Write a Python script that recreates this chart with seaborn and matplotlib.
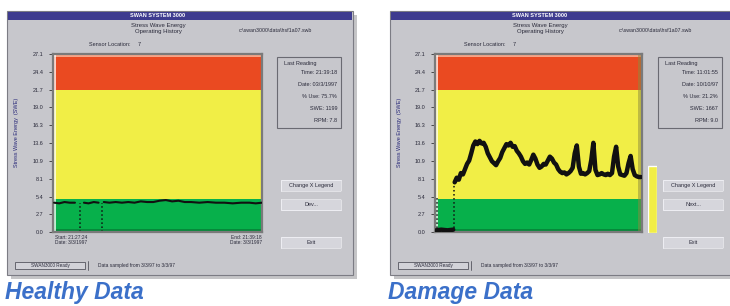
import numpy as np
import pandas as pd
import matplotlib.pyplot as plt
import seaborn as sns
from matplotlib.patches import Rectangle

sns.set_theme(style="white")
plt.rcParams["font.family"] = ["Liberation Sans", "DejaVu Sans"]

# ---- data ----
ytick_vals = [0.0, 2.71, 5.42, 8.13, 10.84, 13.55, 16.26, 18.97, 21.68, 24.39, 27.1]
ytick_labels = ["0.0", "2.7", "5.4", "8.1", "10.9", "13.6", "16.3", "19.0", "21.7", "24.4", "27.1"]
band_edges = [0.0, 5.1, 21.7, 27.1]
band_colors = ["#07b04b", "#f1ee46", "#ea4a21"]

# healthy run: flat ~4.5 with two sensor dropouts
healthy_t = [0.5, 3, 5.5, 8, 10.5, 14.8, 17, 19.5, 21.8, 24.3, 27, 30, 33, 36, 39,
             42, 45, 48, 51, 54, 57, 60, 63, 66, 70, 74, 78, 82, 86, 90, 94, 97, 100]
healthy_v = [4.5, 4.4, 4.6, 4.5, 4.5, 4.5, 4.4, 4.6, 4.5, 4.6, 4.5, 4.6, 4.5, 4.6, 4.5,
             4.7, 4.6, 4.6, 4.8, 4.9, 4.7, 4.8, 4.6, 4.6, 4.5, 4.6, 4.5, 4.5, 4.4, 4.5,
             4.5, 4.4, 4.5]
healthy_seg = [0] * 5 + [1] * 4 + [2] * 24
healthy_drop_t = [13.0, 23.5]

# damage run
damage_t = [0.5, 3, 6, 8.8,
            9.5, 10.5, 11.5, 12.5, 13.5, 14.5, 15.5, 16.5, 17.5, 18.5, 19.5, 20.5,
            21.5, 22.5, 23.5, 24.5, 25.5, 26.5, 27.5, 28.5, 29.5, 30.5, 31.5, 32.5,
            33.5, 34.5, 35.5, 36.5, 37.5, 38.5, 39.5, 40.5, 41.5, 42.5, 43.5, 44.5,
            45.5, 46.5, 47.5, 48.5, 49.5, 50.5, 51.5, 52.5, 53.5, 54.5, 55.5, 56.5,
            57.5, 58.5, 59.5, 60.5, 61.5, 62.5, 63.5, 64.5, 65.5, 66.5, 67.5, 68.5,
            69.5, 70.5, 71.5, 72.5, 73.5, 74.5, 75.5, 76.5, 77.5, 78.5, 79.5, 80.5,
            81.5, 82.5, 83.5, 84.5, 85.5, 86.5, 87.5, 88.5, 89.5, 90.5, 91.5, 92.5,
            93.5, 94.5, 95.5, 96.5, 97.5, 98.5, 99.5]
damage_v = [0.3, 0.4, 0.3, 0.4,
            7.6, 8.3, 8.0, 9.0, 8.8, 9.6, 10.4, 10.9, 12.0, 13.2, 13.8, 13.4,
            13.9, 13.5, 13.6, 13.0, 12.0, 11.4, 10.8, 10.5, 10.2, 10.8, 11.3, 12.2,
            12.8, 13.4, 13.2, 13.6, 13.0, 13.1, 12.4, 12.0, 11.5, 10.8, 10.4, 10.6,
            10.3, 11.0, 11.8, 11.2, 10.3, 9.8, 10.0, 10.4, 10.3, 10.9, 11.5, 11.2,
            10.6, 10.3, 9.6, 9.2, 9.0, 9.1, 8.8, 9.0, 9.3, 9.8, 12.0, 13.2,
            10.0, 8.9, 9.0, 8.8, 9.0, 9.3, 11.0, 13.6, 9.5, 8.7, 8.8, 9.0,
            8.8, 8.7, 8.9, 8.7, 9.0, 11.5, 13.0, 10.0, 8.8, 8.7, 8.6, 9.0,
            10.5, 11.6, 9.6, 8.7, 8.5, 8.4, 8.4]
damage_seg = [0] * 4 + [1] * (len(damage_t) - 4)
damage_drop_t = [1.0, 9.0]
damage_drop_v = [5.4, 7.6]
damage_gauge = 10.2

W, H = 730, 306
fig = plt.figure(figsize=(W / 100, H / 100), dpi=100)
bg = fig.add_axes([0, 0, 1, 1])
bg.set_xlim(0, W)
bg.set_ylim(H, 0)
bg.axis("off")

GRAY = "#c7c7cc"
TXT = "#2a2a3a"


def pix_axes(x0, y0, x1, y1):
    return fig.add_axes([x0 / W, 1 - y1 / H, (x1 - x0) / W, (y1 - y0) / H])


def draw_window(x0, x1, hdr_x, file_x, sensor_x, box_x, btn_x, buttons, side_text, status_x):
    w = x1 - x0
    bg.add_patch(Rectangle((x0 + 4, 15), w, 264, fc="#8c8c90", alpha=0.5, lw=0))
    bg.add_patch(Rectangle((x0, 11), w, 264, fc=GRAY, ec="#7c7c84", lw=0.8))
    bg.add_patch(Rectangle((x0 + 1, 11.5), w - 2, 8.5, fc="#3e3b8f", lw=0))
    bg.text(hdr_x, 15.8, "SWAN SYSTEM 3000", color="white", fontsize=4, ha="center",
            va="center", weight="bold")
    bg.text(hdr_x, 25, "Stress Wave Energy", fontsize=4.3, color=TXT, ha="center", va="center")
    bg.text(hdr_x, 31, "Operating History", fontsize=4.3, color=TXT, ha="center", va="center")
    bg.text(file_x, 31, "c:\\swan3000\\data\\hsf1a07.swb", fontsize=3.8, color=TXT,
            ha="center", va="center")
    bg.text(sensor_x, 45, "Sensor Location:     7", fontsize=4, color=TXT, ha="center",
            va="center")
    bg.text(x0 + 10, 132, "Stress Wave Energy  (SWE)", fontsize=4, color="#2a2a7a",
            rotation=90, ha="center", va="center")
    # last reading box
    bg.add_patch(Rectangle((box_x, 57), 64, 71, fc="none", ec="#6a6a72", lw=0.8))
    bg.text(box_x + 7, 63, "Last Reading", fontsize=4, color=TXT, va="center")
    for i, s in enumerate(side_text):
        bg.text(box_x + 60, 73 + i * 11.8, s, fontsize=4, color=TXT, ha="right", va="center")
    # buttons
    for (yb, label) in zip([180, 198.5, 237], buttons):
        bg.add_patch(Rectangle((btn_x + 0.8, yb + 0.8), 60, 11, fc="#3a3a44", lw=0))
        bg.add_patch(Rectangle((btn_x, yb), 60, 11, fc="#d6d6dc", ec="#f4f4f8", lw=0.6))
        bg.text(btn_x + 30, yb + 5.5, label, fontsize=4, color=TXT, ha="center", va="center")
    # status bar
    bg.add_patch(Rectangle((x0 + 8, 262), 70, 7, fc="#d2d2d8", ec="#55555f", lw=0.6))
    bg.text(x0 + 43, 265.5, "SWAN3000 Ready", fontsize=3.3, color=TXT, ha="center", va="center")
    bg.plot([x0 + 81, x0 + 81], [261, 270], color="#55555f", lw=0.6)
    bg.text(status_x, 265.5, "Data sampled from 3/3/97 to 3/3/97", fontsize=3.5, color=TXT,
            va="center")


def draw_panel(ax, df, drop_t, drop_v, lw):
    for lo, hi, c in zip(band_edges[:-1], band_edges[1:], band_colors):
        ax.axhspan(lo, hi, color=c, lw=0, zorder=0)
    ax.axhspan(26.6, 27.1, color="#f5a487", lw=0, zorder=0)
    ax.axhspan(0, 0.45, color="#05893a", lw=0, zorder=0)
    ax.axvspan(0, 1.6, color="white", alpha=0.75, lw=0, zorder=0.5)
    ax.vlines(drop_t, 0, drop_v, colors="#111111", linestyles=":", lw=1.1, zorder=2)
    sns.lineplot(data=df, x="t", y="v", units="seg", estimator=None, color="#111111",
                 lw=lw, ax=ax, legend=False, zorder=3)
    ax.set_xlim(0, 100)
    ax.set_ylim(0, 27.1)
    ax.set_xticks([])
    ax.set_yticks(ytick_vals)
    ax.set_yticklabels(ytick_labels)
    ax.tick_params(axis="y", left=True, length=3, width=0.6, color="#333333", labelsize=4,
                   labelcolor=TXT, pad=4)
    ax.set_xlabel("")
    ax.set_ylabel("")
    for s in ax.spines.values():
        s.set_color("#7a7a7a")
        s.set_linewidth(1.6)


# ---- left window: healthy ----
draw_window(7, 353, 158, 275, 115, 277, 281, ["Change X Legend", "Dev...", "Exit"],
            ["Time: 21:39:18", "Date: 03/3/1997", "% Use: 75.7%", "SWE: 1199", "RPM: 7.8"], 98)
ax1 = pix_axes(53, 54, 262, 232.3)
h_df = pd.DataFrame({"t": healthy_t, "v": healthy_v, "seg": healthy_seg})
draw_panel(ax1, h_df, healthy_drop_t, [4.5, 4.5], 1.5)
bg.text(55, 240, "Start: 21:27:24\nDate: 3/3/1997", fontsize=3.5, color=TXT, va="center",
        linespacing=1.0)
bg.text(262, 240, "End: 21:39:18\nDate: 3/3/1997", fontsize=3.5, color=TXT, va="center",
        ha="right", linespacing=1.0)

# ---- right window: damage ----
draw_window(390, 740, 540, 655, 490, 658, 663, ["Change X Legend", "Next...", "Exit"],
            ["Time: 11:01:55", "Date: 10/10/97", "% Use: 21.2%", "SWE: 1667", "RPM: 9.0"], 481)
ax2 = pix_axes(435, 54, 642, 232.3)
d_df = pd.DataFrame({"t": damage_t, "v": damage_v, "seg": damage_seg})
draw_panel(ax2, d_df, damage_drop_t, damage_drop_v, 3.2)
ax2.axvspan(98.2, 100, color="#8c8a40", alpha=0.5, lw=0, zorder=0.5)

gauge = pix_axes(648, 54, 657, 233)
sns.barplot(x=[0], y=[damage_gauge], color="#f1ee46", width=1.0, saturation=1, ax=gauge)
gauge.set_ylim(0, 27.1)
gauge.axis("off")

# captions
bg.text(5, 293, "Healthy Data", fontsize=16.5, weight="bold", style="italic",
        color="#3b70c9", va="center")
bg.text(388, 293, "Damage Data", fontsize=16.5, weight="bold", style="italic",
        color="#3b70c9", va="center")

fig.savefig("out.png", dpi=100)
